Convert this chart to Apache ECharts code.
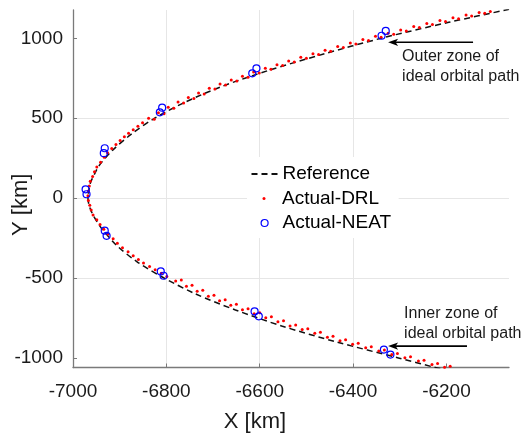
<!DOCTYPE html>
<html><head><meta charset="utf-8">
<script src="https://cdn.jsdelivr.net/npm/echarts@6/dist/echarts.min.js"></script>
<style>html,body{margin:0;padding:0;background:#fff}#c{width:526px;height:433px}</style>
</head><body><div id="c"></div>
<script>
// ---- data ----
const xTicks = [-7000, -6800, -6600, -6400, -6200];
const yTicks = [-1000, -500, 0, 500, 1000];

// Reference trajectory (dashed)
const refX = [-6213,-6224,-6303,-6436,-6553,-6652,-6737,-6805,-6862,-6905,-6936,-6948,-6958,-6965,-6968,
              -6966,-6962,-6954,-6945,-6915,-6875,-6825,-6760,-6680,-6580,-6465,-6340,-6195,-6068,-6058];
const refY = [-1066,-1060,-1000,-900,-800,-700,-600,-500,-400,-300,-200,-150,-100,-50,0,
              50,100,150,200,300,400,500,600,700,800,900,1000,1100,1180,1186];

// Actual-DRL (red dots)
const drlX = [
  -6204,-6192,-6231,-6219,-6260,-6248,-6289,-6277,-6317,-6305,-6345,-6333,-6373,-6361,-6401,-6389,
  -6428,-6416,-6455,-6443,-6482,-6470,-6509,-6497,-6535,-6523,-6561,-6549,-6587,-6575,-6612,-6600,
  -6637,-6625,-6662,-6650,-6686,-6674,-6710,-6698,-6734,-6722,-6757,-6745,-6780,-6768,
  -6799,-6811,-6824,-6836,-6849,-6860,-6871,-6882,-6894,-6905,-6914,-6925,-6934,-6942,-6949,-6957,-6961,-6964,-6967,
  -6968,-6967,-6965,-6963,-6958,-6954,-6949,-6941,-6933,-6926,-6917,-6908,-6899,-6890,-6881,-6871,-6861,-6851,
  -6838,-6826,-6817,-6805,-6796,-6784,-6775,-6763,-6753,-6741,-6731,-6719,-6708,-6696,-6685,-6673,
  -6661,-6649,-6637,-6625,-6613,-6601,-6588,-6576,-6563,-6551,-6538,-6526,-6512,-6500,-6486,-6474,
  -6460,-6448,-6433,-6421,-6406,-6394,-6379,-6367,-6352,-6340,-6325,-6313,-6298,-6286,-6270,-6258,
  -6242,-6230,-6214,-6202,-6186,-6174,-6158,-6146,-6130,-6118,-6106];
const drlY = [
  -1058,-1052,-1041,-1035,-1020,-1014,-999,-993,-978,-972,-957,-951,-936,-930,-914,-908,
  -893,-887,-870,-864,-846,-840,-823,-817,-800,-794,-774,-768,-749,-743,-724,-718,
  -699,-693,-670,-664,-642,-636,-614,-608,-583,-577,-551,-545,-518,-512,
  -490,-470,-449,-428,-406,-384,-360,-336,-310,-283,-255,-225,-195,-165,-135,-105,-75,-45,-15,
  15,45,75,105,135,165,195,225,255,283,310,336,360,384,406,428,449,472,
  500,494,534,528,568,562,601,595,630,624,658,652,688,682,714,708,
  739,733,762,756,789,783,813,807,835,829,858,852,881,875,904,898,
  925,919,948,942,970,964,992,986,1013,1007,1032,1026,1052,1046,1073,1067,
  1093,1087,1111,1105,1128,1122,1145,1139,1162,1156,1168];

// Actual-NEAT (blue open circles)
const neatX = [-6339,-6330,-6616,-6607,-6814,-6809,-6932,-6934,-6973,-6971,-6932,-6928,-6812,-6806,-6611,-6602,-6334,-6320];
const neatY = [1016,1046,781,812,537,566,312,281,55,24,-204,-236,-459,-486,-709,-740,-948,-979];

// Annotations (arrow positions in data units)
const annotationText = ['Outer zone of\nideal orbital path', 'Inner zone of\nideal orbital path'];
const arrowTailX = [-6143, -6156];
const arrowTipX = [-6325, -6325];
const arrowY = [975, -926];

// ---- chart ----
const FONT = '"Liberation Sans", Arial, Helvetica, sans-serif';
const zip = (a, b) => a.map((v, i) => [v, b[i]]);
const chart = echarts.init(document.getElementById('c'), null, {renderer: 'canvas'});

const axisGray = '#7a7a7a';
const gridGray = '#e6e6e6';
const textCol = '#1a1a1a';
const plain = v => String(v);

chart.setOption({
  animation: false,
  backgroundColor: '#fff',
  grid: {left: 73, right: 17, top: 10, bottom: 65.5, containLabel: false, outerBoundsMode: 'none'},
  xAxis: {
    type: 'value', min: -7000, max: -6066,
    name: 'X [km]', nameLocation: 'middle', nameGap: 43, nameMoveOverlap: false,
    nameTextStyle: {fontSize: 22, fontFamily: FONT, color: textCol, padding: [0, 72, 0, 0]},
    axisLine: {show: true, onZero: false, lineStyle: {color: axisGray, width: 1.3}},
    axisTick: {show: true, inside: true, length: 4, customValues: xTicks, lineStyle: {color: axisGray, width: 1}},
    axisLabel: {fontSize: 19, fontFamily: FONT, color: textCol, margin: 15, customValues: xTicks, formatter: plain},
    splitLine: {show: true, showMinLine: false, showMaxLine: false, lineStyle: {color: gridGray, width: 1}}
  },
  yAxis: {
    type: 'value', min: -1060, max: 1177,
    name: 'Y [km]', nameLocation: 'middle', nameGap: 41, nameMoveOverlap: false,
    nameTextStyle: {fontSize: 22, fontFamily: FONT, color: textCol, padding: [0, 32, 0, 0]},
    axisLine: {show: true, onZero: false, lineStyle: {color: axisGray, width: 1.3}},
    axisTick: {show: true, inside: true, length: 4, customValues: yTicks, lineStyle: {color: axisGray, width: 1}},
    axisLabel: {fontSize: 19, fontFamily: FONT, color: textCol, margin: 10, customValues: yTicks, formatter: plain},
    splitLine: {show: true, showMinLine: false, showMaxLine: false, lineStyle: {color: gridGray, width: 1}}
  },
  legend: [
    {data: ['Reference'], left: 247, top: 157, padding: [7.5, 29, 3.5, 3.5], itemWidth: 26, itemHeight: 2,
     backgroundColor: '#fff', selectedMode: false, textStyle: {fontSize: 19, fontFamily: FONT, color: '#000'}},
    {data: ['Actual-DRL'], left: 247, top: 187, padding: [2, 19.5, 3, 15.5], itemWidth: 26, itemHeight: 3,
     backgroundColor: '#fff', selectedMode: false, textStyle: {fontSize: 19, fontFamily: FONT, color: '#000'}},
    {data: ['Actual-NEAT'], left: 247, top: 211, padding: [2.5, 7, 5.5, 13.5], itemWidth: 26, itemHeight: 7,
     itemStyle: {borderWidth: 1.2}, backgroundColor: '#fff', selectedMode: false,
     textStyle: {fontSize: 19, fontFamily: FONT, color: '#000'}}
  ],
  series: [
    {name: 'Reference', type: 'line', data: zip(refX, refY), symbol: 'none', smooth: 0.3, clip: true,
     lineStyle: {color: '#111', width: 1.5, type: [6, 4]}, itemStyle: {color: '#111'}, z: 2},
    {name: 'Actual-DRL', type: 'scatter', data: zip(drlX, drlY), symbol: 'circle', symbolSize: 3, clip: true,
     itemStyle: {color: '#ff0000', opacity: 1}, z: 3},
    {name: 'Actual-NEAT', type: 'scatter', data: zip(neatX, neatY), symbol: 'circle', symbolSize: 7, clip: true,
     itemStyle: {color: 'rgba(255,255,255,0)', borderColor: '#0000ff', borderWidth: 1.2, opacity: 1}, z: 4}
  ]
});

// annotation arrows + text placed through the chart's own coordinate conversion
const labelDx = [14, 16];
const labelDy = [4, -42];
const graphics = [];
annotationText.forEach((txt, i) => {
  const tip = chart.convertToPixel({gridIndex: 0}, [arrowTipX[i], arrowY[i]]);
  const tail = chart.convertToPixel({gridIndex: 0}, [arrowTailX[i], arrowY[i]]);
  graphics.push({type: 'line', shape: {x1: tip[0] + 7, y1: tip[1], x2: tail[0], y2: tail[1]},
                 style: {stroke: '#000', lineWidth: 1.6}, z: 10});
  graphics.push({type: 'polygon', shape: {points: [[tip[0], tip[1]], [tip[0] + 10, tip[1] - 3.6],
                 [tip[0] + 7.5, tip[1]], [tip[0] + 10, tip[1] + 3.6]]}, style: {fill: '#000'}, z: 10});
  graphics.push({type: 'text', x: tip[0] + labelDx[i], y: tip[1] + labelDy[i], z: 10,
                 style: {text: txt, fontSize: 16, fontFamily: FONT, fill: textCol, lineHeight: 20,
                         verticalAlign: 'top', align: 'left'}});
});
chart.setOption({graphic: graphics});
</script>
</body></html>
